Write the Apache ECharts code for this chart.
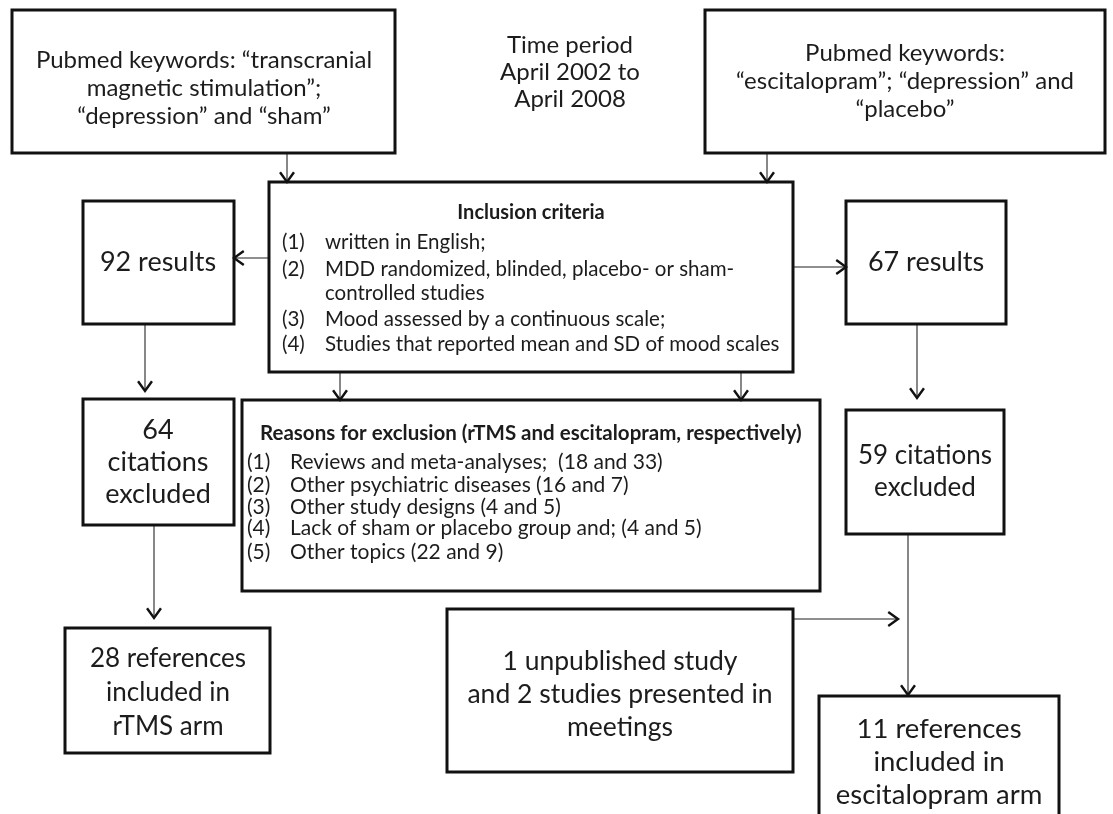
<!DOCTYPE html>
<html>
<head>
<meta charset="utf-8">
<script src="https://cdn.jsdelivr.net/npm/echarts@6/dist/echarts.min.js"></script>
<style>
  html, body { margin: 0; padding: 0; background: #fff; }
  #chart { width: 1113px; height: 814px; }
</style>
</head>
<body>
<div id="chart"></div>
<script>
// box texts (centered)
const boxLabels = [
  "Pubmed keywords: “transcranial\nmagnetic stimulation”;\n“depression” and “sham”",
  "Pubmed keywords:\n“escitalopram”; “depression” and\n“placebo”",
  "92 results",
  "67 results",
  "64\ncitations\nexcluded",
  "59 citations\nexcluded",
  "28 references\nincluded in\nrTMS arm",
  "1 unpublished study\nand 2 studies presented in\nmeetings",
  "11 references\nincluded in\nescitalopram arm",
  "Time period\nApril 2002 to\nApril 2008"
];

const inclusionTitle = "Inclusion criteria";
const inclusionNums = ["(1)", "(2)", "", "(3)", "(4)"];
const inclusionItems = [
  "written in English;",
  "MDD randomized, blinded, placebo- or sham-",
  "controlled studies",
  "Mood assessed by a continuous scale;",
  "Studies that reported mean and SD of mood scales"
];

const exclusionTitle = "Reasons for exclusion (rTMS and escitalopram, respectively)";
const exclusionNums = ["(1)", "(2)", "(3)", "(4)", "(5)"];
const exclusionItems = [
  "Reviews and meta-analyses;  (18 and 33)",
  "Other psychiatric diseases (16 and 7)",
  "Other study designs (4 and 5)",
  "Lack of sham or placebo group and; (4 and 5)",
  "Other topics (22 and 9)"
];

// ---- layout (in picture pixels) ----
const boxRects = [
  [12, 10, 395, 153], [705, 10, 1105, 153],
  [269, 182, 793, 372],
  [83, 201, 234, 324], [846, 201, 1006, 324],
  [83, 399, 234, 525], [242, 400, 820, 591], [846, 410, 1004, 534],
  [65, 628, 270, 753], [447, 609, 793, 772], [819, 696, 1059, 830]
];
const labelPos = [
  [204, 88], [905, 81], [158, 262], [926, 262], [158, 462], [925, 472],
  [168, 693], [620, 694], [939, 762], [570, 72]
];
const labelSize = [24, 24, 27, 27, 27, 26, 26, 26.5, 27.5, 24];
const labelLine = [28, 28, 32, 32, 32, 32, 34, 33, 33, 27];
const inclusionY = [242, 269, 293, 319, 344];
const exclusionY = [462, 485, 507, 528, 552];
const arrows = [
  [287, 153, 287, 182], [767, 153, 767, 182],
  [269, 258, 234, 258], [793, 267, 846, 267],
  [145, 324, 145, 391], [340, 372, 340, 400], [741, 372, 741, 400],
  [917, 324, 917, 398], [154, 525, 154, 618],
  [908, 534, 908, 695], [793, 619, 898, 619]
];

const FONT = "Lato";
const INK = "#1c1c1c";

const chart = echarts.init(document.getElementById("chart"));

function textEl(api, x, y, text, opt) {
  const p = api.coord([x, y]);
  return {
    type: "text",
    x: p[0],
    y: p[1],
    style: Object.assign({
      text: text,
      fontFamily: FONT,
      fill: INK,
      verticalAlign: "middle"
    }, opt)
  };
}

const listRows = [];
inclusionItems.forEach((t, i) => listRows.push({ kind: "inc", i: i }));
exclusionItems.forEach((t, i) => listRows.push({ kind: "exc", i: i }));

const option = {
  animation: false,
  grid: { left: 0, right: 0, top: 0, bottom: 0 },
  xAxis: { type: "value", min: 0, max: 1113, show: false },
  yAxis: { type: "value", min: 0, max: 814, inverse: true, show: false },
  series: [
    {
      // arrows
      type: "custom",
      data: arrows,
      silent: true,
      renderItem: function (params, api) {
        const a = api.coord([api.value(0), api.value(1)]);
        const b = api.coord([api.value(2), api.value(3)]);
        const ang = Math.atan2(b[1] - a[1], b[0] - a[0]);
        const len = 12, half = 0.62;
        const h1 = [b[0] - len * Math.cos(ang - half), b[1] - len * Math.sin(ang - half)];
        const h2 = [b[0] - len * Math.cos(ang + half), b[1] - len * Math.sin(ang + half)];
        return {
          type: "group",
          children: [
            { type: "line", shape: { x1: a[0], y1: a[1], x2: b[0], y2: b[1] },
              style: { stroke: "#6a6a6a", lineWidth: 1.6 } },
            { type: "polyline", shape: { points: [h1, b, h2] },
              style: { stroke: "#111", lineWidth: 2.4, fill: null } }
          ]
        };
      }
    },
    {
      // boxes
      type: "custom",
      data: boxRects,
      silent: true,
      renderItem: function (params, api) {
        const p0 = api.coord([api.value(0), api.value(1)]);
        const p1 = api.coord([api.value(2), api.value(3)]);
        return {
          type: "rect",
          shape: { x: p0[0], y: p0[1], width: p1[0] - p0[0], height: p1[1] - p0[1] },
          style: { fill: null, stroke: "#111", lineWidth: 3 }
        };
      }
    },
    {
      // box labels
      type: "custom",
      data: labelPos,
      silent: true,
      renderItem: function (params, api) {
        const i = params.dataIndex;
        return textEl(api, api.value(0), api.value(1), boxLabels[i], {
          align: "center",
          fontSize: labelSize[i],
          lineHeight: labelLine[i]
        });
      }
    },
    {
      // list boxes: titles + numbered rows
      type: "custom",
      data: listRows.map((r) => [0, 0]),
      silent: true,
      renderItem: function (params, api) {
        const r = listRows[params.dataIndex];
        const children = [];
        if (r.kind === "inc") {
          const y = inclusionY[r.i];
          if (r.i === 0) children.push(textEl(api, 531, 213, inclusionTitle,
            { align: "center", fontSize: 20, fontWeight: "bold" }));
          children.push(textEl(api, 282, y, inclusionNums[r.i], { align: "left", fontSize: 20.5 }));
          children.push(textEl(api, 325, y, inclusionItems[r.i], { align: "left", fontSize: 20.5 }));
        } else {
          const y = exclusionY[r.i];
          if (r.i === 0) children.push(textEl(api, 260, 433, exclusionTitle,
            { align: "left", fontSize: 20.5, fontWeight: "bold" }));
          children.push(textEl(api, 247, y, exclusionNums[r.i], { align: "left", fontSize: 21 }));
          children.push(textEl(api, 290, y, exclusionItems[r.i], { align: "left", fontSize: 21 }));
        }
        return { type: "group", children: children };
      }
    }
  ]
};

chart.setOption(option);
window.addEventListener("resize", () => chart.resize());
</script>
</body>
</html>
